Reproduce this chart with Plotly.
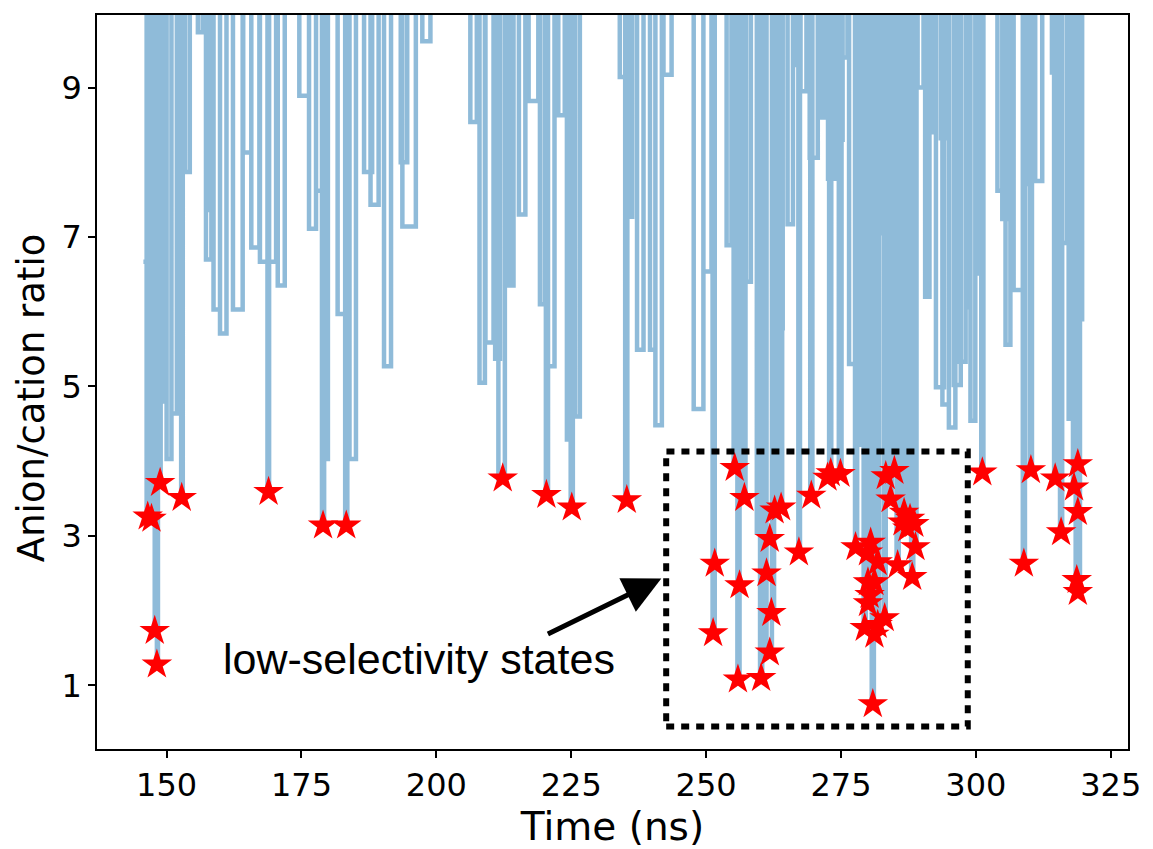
import plotly.graph_objects as go

# ---- data: dips of the anion/cation ratio trace (start ns, end ns, minimum ratio) ----
dip_start = [145.7, 146.3, 147.1, 147.4, 147.8, 148.2, 148.7, 149.1, 149.7, 150.0, 150.9, 152.1, 152.7,
             153.4, 155.8, 157.3, 157.9, 158.7, 159.9, 162.3, 164.2, 165.7, 167.3, 168.7, 169.0, 170.6,
             174.6, 176.4, 177.7, 178.8, 179.2, 181.7, 183.1, 183.9, 186.6, 187.8, 190.3, 193.4, 193.7,
             197.4,
             206.3, 208.0, 209.1, 210.9, 211.5, 212.7, 213.5, 215.3, 217.1, 219.2, 220.3, 220.7, 222.6,
             224.2, 224.9, 225.7,
             234.0, 235.0, 235.5, 237.2, 239.6, 240.6, 242.1, 247.7, 249.5, 251.2, 253.8, 255.1, 255.8,
             256.2, 256.9, 257.4, 259.4, 260.0, 260.4, 261.2, 262.2, 262.5, 263.3, 263.7,
             265.1, 266.3, 267.1, 267.5, 269.2, 269.3, 271.4, 272.6, 272.8, 273.8, 274.6, 275.3,
             276.5, 277.6, 277.8, 278.8, 279.2, 279.8, 280.4, 280.7, 281.1, 281.6, 282.1, 282.9,
             283.1, 283.5, 284.0, 284.7, 285.3, 285.8, 286.2, 286.6, 287.1, 287.6, 288.0, 288.4,
             288.7, 289.2, 290.6, 291.4, 292.6, 293.5, 293.8, 295.0, 295.9, 296.5, 298.1, 299.0,
             300.0, 301.0, 304.0, 304.9, 305.5, 307.0, 308.7, 309.1, 310.0, 311.0, 314.1, 314.5,
             315.6, 316.0, 317.2, 318.0, 318.5, 319.3]
dip_end = [146.6, 146.7, 147.4, 147.8, 148.0, 148.4, 148.9, 150.0, 149.9, 150.9, 151.9, 153.0, 153.0,
           154.3, 156.7, 158.3, 158.5, 159.9, 161.1, 164.1, 165.7, 167.2, 169.0, 169.0, 170.3, 171.9,
           176.4, 177.7, 178.9, 179.2, 179.9, 183.9, 183.5, 185.1, 188.1, 189.3, 191.6, 194.6, 196.2,
           198.9,
           207.5, 209.0, 210.6, 211.8, 212.7, 213.5, 214.3, 216.5, 218.9, 220.1, 220.7, 221.9, 223.8,
           225.0, 225.3, 226.6,
           235.1, 235.4, 236.3, 238.4, 240.6, 241.8, 243.6, 249.5, 251.0, 251.6, 254.7, 255.5, 256.2,
           257.1, 257.3, 258.3, 260.3, 260.4, 261.2, 262.2, 262.6, 263.0, 264.2, 264.1,
           266.1, 267.3, 267.4, 268.6, 270.7, 269.7, 272.2, 273.8, 273.2, 275.3, 275.1, 276.2,
           277.8, 278.0, 278.7, 279.7, 279.6, 280.2, 280.7, 281.1, 281.4, 282.0, 283.3, 283.3,
           283.5, 284.3, 284.4, 285.1, 285.7, 286.7, 286.6, 286.9, 287.5, 288.0, 288.4, 288.7,
           289.0, 290.3, 291.4, 292.2, 294.1, 294.7, 295.0, 296.2, 297.2, 298.1, 298.8, 299.9,
           300.7, 301.4, 305.5, 306.1, 306.4, 308.8, 309.1, 309.9, 310.4, 312.3, 315.7, 314.9,
           316.0, 316.9, 318.1, 318.4, 319.3, 319.7]
dip_low = [6.67, 3.26, 3.23, 5.46, 1.73, 1.28, 3.71, 7.24, 4.80, 4.03, 4.64, 6.73, 3.51,
           7.87, 9.74, 6.70, 7.36, 6.03, 5.71, 6.03, 8.13, 6.86, 6.67, 3.59, 6.67, 6.35,
           8.89, 7.11, 7.62, 3.14, 4.03, 5.97, 3.14, 4.03, 7.87, 7.43, 5.27, 8.00, 7.14,
           9.62,
           8.54, 5.05, 5.59, 5.37, 3.77, 6.35, 6.35, 7.30, 8.82, 6.10, 3.55, 5.27, 8.63,
           4.29, 3.38, 4.60,
           9.14, 3.48, 7.27, 5.49, 5.49, 4.48, 9.17, 4.70, 6.54, 1.70, 6.89, 3.91, 1.08,
           5.65, 3.51, 6.40, 3.05, 1.10, 1.46, 1.44, 1.97, 3.34, 5.78, 3.38,
           7.17, 9.30, 2.78, 8.95, 8.06, 3.54, 8.60, 7.78, 3.84, 8.30, 3.83, 9.40,
           5.30, 2.85, 5.11, 4.22, 1.77, 2.10, 2.91, 0.75, 1.68, 1.81, 7.05, 1.90,
           3.80, 9.00, 3.49, 3.87, 2.61, 4.70, 3.18, 3.31, 3.10, 3.23, 2.45, 3.16,
           2.85, 9.00, 6.20, 8.40, 4.99, 8.32, 4.76, 4.45, 5.02, 5.33, 6.06, 4.54,
           6.51, 3.85, 7.62, 7.24, 5.56, 6.29, 2.63, 7.71, 3.88, 7.75, 9.20, 3.77,
           3.05, 6.92, 4.57, 3.65, 2.25, 5.90]
OFF_SCALE = 12.0  # ratio values above the plotted range

# ---- data: low-selectivity states (red stars) ----
star_time = [146.5, 147.2, 148.8, 147.8, 148.2, 152.8, 168.9, 179.0, 183.3, 212.3, 220.4, 225.1,
             235.3, 255.3, 257.1, 251.6, 251.3, 256.2, 255.9, 260.2, 261.8, 262.1, 261.2, 261.8,
             262.7, 263.9, 267.2, 269.5, 273.1, 274.9, 272.5, 277.7, 280.5, 280.0, 281.8, 280.0,
             281.2, 280.3, 280.0, 279.4, 281.2, 283.1, 281.8, 280.9, 283.3, 284.9, 284.2, 286.7,
             287.8, 286.4, 288.6, 287.3, 285.5, 288.8, 288.2, 301.2, 308.9, 310.2, 314.7, 315.8,
             318.2, 318.9, 318.9, 318.7, 318.9]
star_ratio = [3.26, 3.23, 3.71, 1.73, 1.28, 3.51, 3.59, 3.14, 3.14, 3.77, 3.55, 3.38,
              3.48, 3.91, 3.51, 2.63, 1.70, 2.34, 1.08, 1.10, 1.44, 1.97, 2.50, 2.96,
              3.34, 3.38, 2.78, 3.54, 3.84, 3.83, 3.78, 2.85, 2.91, 2.78, 2.65, 2.38,
              2.38, 2.21, 2.10, 1.77, 1.68, 1.90, 1.81, 0.75, 3.80, 3.87, 3.49, 3.31,
              3.23, 3.18, 3.16, 3.10, 2.61, 2.85, 2.45, 3.85, 2.63, 3.88, 3.77, 3.05,
              3.65, 3.96, 3.32, 2.41, 2.25]

x_ticks = [150, 175, 200, 225, 250, 275, 300, 325]
y_ticks = [1, 3, 5, 7, 9]

# trace: each dip drops from off-scale to its minimum and back (step line)
line_t, line_y = [], []
for t0, t1, lo in sorted(zip(dip_start, dip_end, dip_low)):
    line_t += [t0, t1]
    line_y += [lo, OFF_SCALE]

fig = go.Figure()
fig.add_trace(go.Scatter(x=line_t, y=line_y, mode="lines", line_shape="hv",
                         line=dict(color="#8fbbd9", width=4.5), showlegend=False,
                         hoverinfo="skip"))
fig.add_trace(go.Scatter(x=star_time, y=star_ratio, mode="markers",
                         marker=dict(symbol="star", size=23, color="red", line=dict(width=0)),
                         showlegend=False))

fig.add_shape(type="rect", xref="x", yref="y", x0=242.6, x1=298.5, y0=0.45, y1=4.13,
              line=dict(color="black", width=6, dash="8px,7px"), fillcolor="rgba(0,0,0,0)")

fig.add_annotation(x=241.7, y=2.43, ax=220.4, ay=1.68, xref="x", yref="y", axref="x", ayref="y",
                   text="", showarrow=True, arrowhead=2, arrowsize=1.5, arrowwidth=5,
                   arrowcolor="black")
fig.add_annotation(x=196.8, y=1.35, xref="x", yref="y", text="low-selectivity states",
                   showarrow=False, font=dict(family="Liberation Sans, Arial", size=43, color="black"))
fig.add_annotation(x=0, y=0.478, xref="paper", yref="paper", xshift=-66, textangle=-90,
                   text="Anion/cation ratio", showarrow=False, xanchor="center", yanchor="middle",
                   font=dict(family="DejaVu Sans", size=37, color="black"))

axis_common = dict(showline=True, linecolor="black", linewidth=1.5, mirror=True,
                   ticks="outside", ticklen=7, tickwidth=1.5, tickcolor="black",
                   showgrid=False, zeroline=False,
                   tickfont=dict(family="DejaVu Sans", size=32, color="black"))
fig.update_xaxes(range=[137.1, 328.2], tickvals=x_ticks,
                 title=dict(text="Time (ns)", font=dict(family="DejaVu Sans", size=39, color="black"),
                            standoff=6),
                 **axis_common)
fig.update_yaxes(range=[0.15, 9.97], tickvals=y_ticks, **axis_common)
fig.update_layout(width=1153, height=849, margin=dict(l=97, r=22, t=15, b=94),
                  plot_bgcolor="white", paper_bgcolor="white")
fig.write_html("out.html")
